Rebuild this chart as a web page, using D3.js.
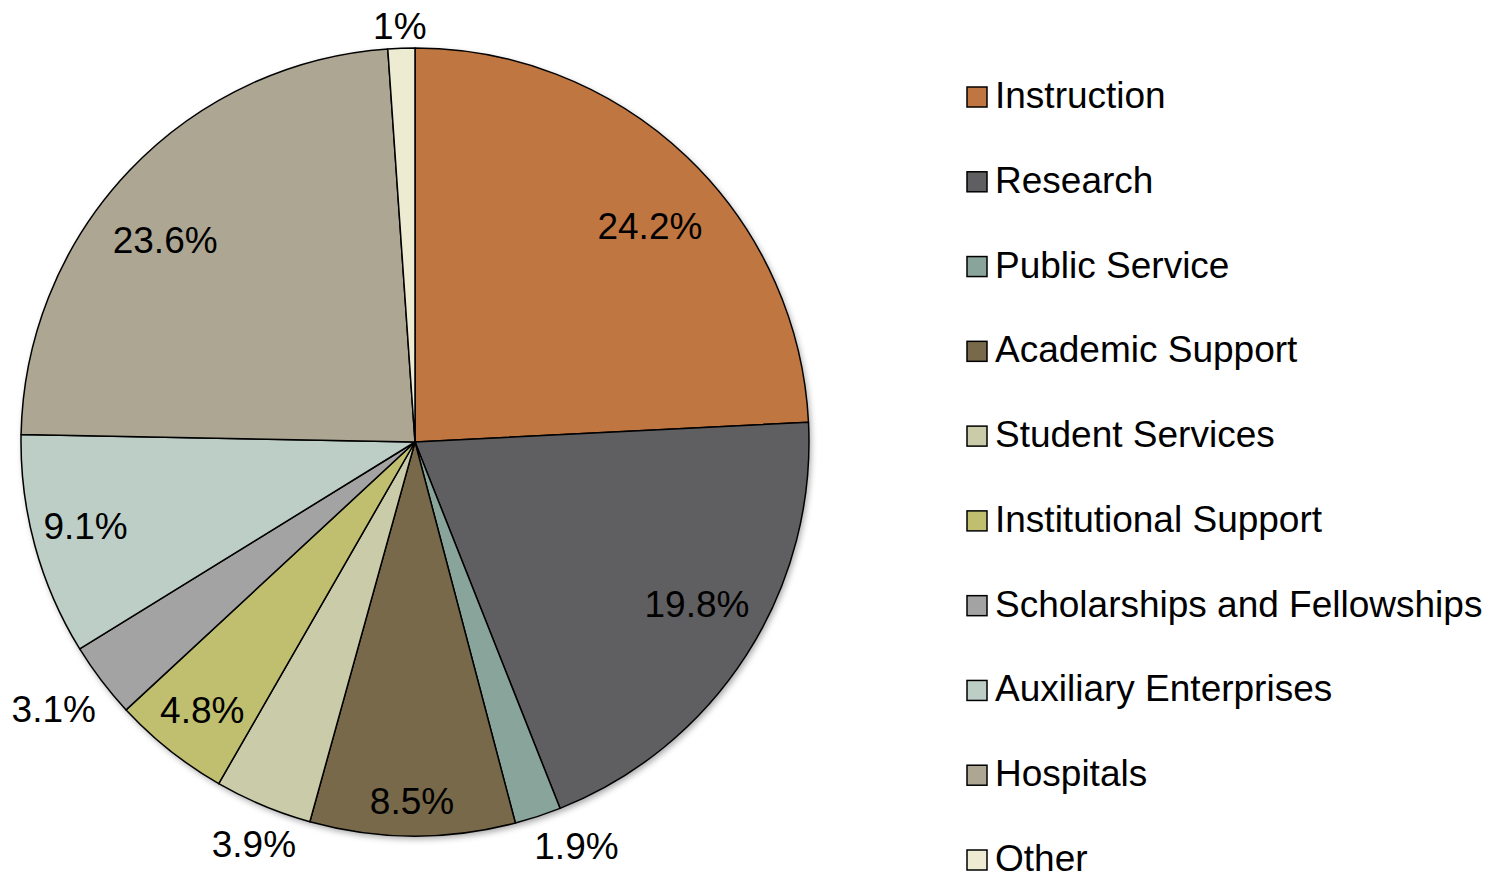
<!DOCTYPE html>
<html>
<head>
<meta charset="utf-8">
<script src="https://cdn.jsdelivr.net/npm/d3@7"></script>
<style>
body { margin: 0; background: #fff; }
text { font-family: "Liberation Sans", Arial, sans-serif; fill: #000; }
</style>
</head>
<body>
<svg width="1502" height="874"></svg>
<script>
var categories = ["Instruction", "Research", "Public Service", "Academic Support", "Student Services",
	"Institutional Support", "Scholarships and Fellowships", "Auxiliary Enterprises", "Hospitals", "Other"];
// slice sizes as drawn (read from the wedge edges); the printed labels are kept separately
var values = [24.2, 19.8, 1.9, 8.4, 4.0, 4.8, 3.1, 9.1, 23.6, 1.1];
var labels = ["24.2%", "19.8%", "1.9%", "8.5%", "3.9%", "4.8%", "3.1%", "9.1%", "23.6%", "1%"];
var colors = ["#C07641", "#5F5E61", "#89A49A", "#78694A", "#CACBA8", "#BFBF6F", "#A3A3A3", "#BDCEC6", "#ACA693", "#EDEBD2"];

// best-fit label placement: [distance as fraction of radius, angle nudge in radians]
var labelPlace = {
	"Instruction": [0.81, 0.067], "Research": [0.825, -0.051], "Public Service": [1.104, -0.063],
	"Academic Support": [0.911, 0.002], "Student Services": [1.10, -0.015],
	"Institutional Support": [0.868, -0.001], "Scholarships and Fellowships": [1.14, 0.014],
	"Auxiliary Enterprises": [0.863, 0.017], "Hospitals": [0.815, -0.081], "Other": [1.056, -0.002]
};

var svg = d3.select("svg"),
	cx = 415, cy = 442, radius = 394;

var defs = svg.append("defs");
var f = defs.append("filter").attr("id", "shadow")
	.attr("x", "-10%").attr("y", "-10%").attr("width", "120%").attr("height", "120%");
f.append("feDropShadow").attr("dx", 2).attr("dy", 3).attr("stdDeviation", 3)
	.attr("flood-color", "#000").attr("flood-opacity", 0.35);

var pie = d3.pie().sort(null).value(function(d, i){ return values[i]; });
var arcs = pie(categories);
var arc = d3.arc().innerRadius(0).outerRadius(radius);

var g = svg.append("g").attr("transform", "translate(" + cx + "," + cy + ")");

g.append("circle").attr("r", radius).style("fill", "#fff").attr("filter", "url(#shadow)");

g.selectAll("path")
	.data(arcs)
	.enter().append("path")
	.attr("d", arc)
	.style("fill", function(d, i){ return colors[i]; })
	.style("stroke", "#000")
	.style("stroke-width", 1.5)
	.style("stroke-linejoin", "round");

g.selectAll("text.lbl")
	.data(arcs)
	.enter().append("text")
	.attr("class", "lbl")
	.attr("transform", function(d){
		var p = labelPlace[d.data];
		var r = radius * p[0];
		var a = (d.startAngle + d.endAngle) / 2 + p[1];
		return "translate(" + (r * Math.sin(a)) + "," + (-r * Math.cos(a)) + ")";
	})
	.attr("text-anchor", "middle")
	.attr("dy", "0.35em")
	.style("font-size", "37px")
	.text(function(d, i){ return labels[i]; });

// legend
var legend = svg.append("g").attr("transform", "translate(967,0)");
var rowY = d3.scalePoint().domain(categories).range([97, 860]);

var item = legend.selectAll("g")
	.data(categories)
	.enter().append("g")
	.attr("transform", function(d){ return "translate(0," + rowY(d) + ")"; });

item.append("rect")
	.attr("x", 0).attr("y", -10)
	.attr("width", 20).attr("height", 20)
	.style("fill", function(d, i){ return colors[i]; })
	.style("stroke", "#000")
	.style("stroke-width", 1.5);

item.append("text")
	.attr("x", 28)
	.attr("y", 11)
	.style("font-size", "37px")
	.text(function(d){ return d; });
</script>
</body>
</html>
